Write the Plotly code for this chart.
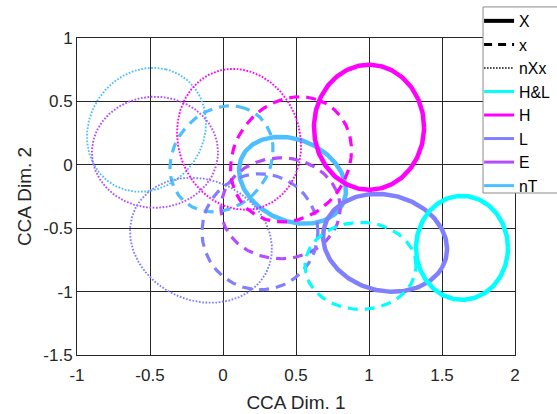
import numpy as np
import plotly.graph_objects as go

# ---------------- data ----------------
groups = ["H&L", "H", "L", "E", "nT"]
conditions = ["X", "x", "nXx"]

# ellipse parameters per (condition, group): centre, semi-axes, tilt (deg)
X_group = ["H&L", "H", "L", "nT"]
X_cx = [1.637, 1.000, 1.110, 0.476]
X_cy = [-0.655, 0.296, -0.615, -0.122]
X_a = [0.315, 0.377, 0.437, 0.395]
X_b = [0.410, 0.493, 0.372, 0.309]
X_ang = [0.0, 0.0, -26.7, -37.0]

x_group = ["H&L", "H", "L", "E", "nT"]
x_cx = [0.942, 0.466, 0.253, 0.394, -0.010]
x_cy = [-0.797, 0.043, -0.528, -0.343, 0.047]
x_a = [0.380, 0.504, 0.397, 0.408, 0.430]
x_b = [0.343, 0.401, 0.457, 0.398, 0.338]
x_ang = [0.0, 70.2, 0.0, 0.0, 67.5]

nXx_group = ["H", "L", "E", "nT"]
nXx_cx = [0.110, -0.151, -0.466, -0.524]
nXx_cy = [0.201, -0.595, 0.099, 0.276]
nXx_a = [0.559, 0.523, 0.432, 0.495]
nXx_b = [0.420, 0.454, 0.438, 0.400]
nXx_ang = [-80.2, -48.0, 0.0, 74.4]

x_tickvals = [-1, -0.5, 0, 0.5, 1, 1.5, 2]
x_ticktext = ["-1", "-0.5", "0", "0.5", "1", "1.5", "2"]
y_tickvals = [-1.5, -1, -0.5, 0, 0.5, 1]
y_ticktext = ["-1.5", "-1", "-0.5", "0", "0.5", "1"]

# ---------------- styles ----------------
colors = {"H&L": "#00FFFF", "H": "#FF00FF", "L": "#8080FF",
          "E": "#B34DFF", "nT": "#4DBFFF"}
cond_style = {"X": dict(width=4.5, dash="solid"),
              "x": dict(width=3.2, dash="10px,7px"),
              "nXx": dict(width=1.9, dash="1.7px,1.6px")}
FONT = "Liberation Sans, Arial, Helvetica, sans-serif"

data = {
    "X": (X_group, X_cx, X_cy, X_a, X_b, X_ang),
    "x": (x_group, x_cx, x_cy, x_a, x_b, x_ang),
    "nXx": (nXx_group, nXx_cx, nXx_cy, nXx_a, nXx_b, nXx_ang),
}

t = np.linspace(0, 2 * np.pi, 241)


def ellipse(cx, cy, a, b, ang):
    th = np.deg2rad(ang)
    ex = cx + a * np.cos(t) * np.cos(th) - b * np.sin(t) * np.sin(th)
    ey = cy + a * np.cos(t) * np.sin(th) + b * np.sin(t) * np.cos(th)
    return ex, ey


fig = go.Figure()

draw_order = ["nT", "E", "L", "H", "H&L"]
for g in draw_order:
    for cond in ["nXx", "x", "X"]:
        grp, cxs, cys, As, Bs, angs = data[cond]
        for i, name in enumerate(grp):
            if name != g:
                continue
            ex, ey = ellipse(cxs[i], cys[i], As[i], Bs[i], angs[i])
            st = cond_style[cond]
            fig.add_trace(go.Scatter(
                x=ex, y=ey, mode="lines", showlegend=False, hoverinfo="skip",
                line=dict(color=colors[g], width=st["width"], dash=st["dash"])))

# legend entries
leg_width = {"X": 4, "x": 3, "nXx": 1.5}
leg_dash = {"X": "solid", "x": "8px,6px", "nXx": "1.5px,1.5px"}
for cond in conditions:
    fig.add_trace(go.Scatter(
        x=[None], y=[None], mode="lines", name=cond,
        line=dict(color="black", width=leg_width[cond], dash=leg_dash[cond])))
for g in groups:
    fig.add_trace(go.Scatter(
        x=[None], y=[None], mode="lines", name=g,
        line=dict(color=colors[g], width=3)))

axis_common = dict(
    showgrid=True, gridcolor="#262626", gridwidth=1,
    showline=True, linecolor="#262626", linewidth=1, mirror=True,
    ticks="inside", ticklen=5, tickcolor="#262626",
    zeroline=False, tickfont=dict(family=FONT, size=17, color="#262626"),
)

# legend box (white, drawn over the plot corner)
fig.add_shape(type="rect", xref="paper", yref="paper",
              x0=0.927, x1=1.3, y0=0.511, y1=1.098,
              fillcolor="white", line=dict(color="#8C8C8C", width=1),
              layer="above")

fig.update_layout(
    width=557, height=414,
    margin=dict(l=77, r=42, t=38, b=59, autoexpand=False),
    paper_bgcolor="white", plot_bgcolor="white",
    font=dict(family=FONT, color="#262626"),
    xaxis=dict(range=[-1, 2], tickvals=x_tickvals, ticktext=x_ticktext,
               ticklabelstandoff=5,
               title=dict(text="CCA Dim. 1", font=dict(family=FONT, size=19),
                          standoff=11),
               automargin=False, **axis_common),
    yaxis=dict(range=[-1.5, 1], tickvals=y_tickvals, ticktext=y_ticktext,
               title=dict(text="CCA Dim. 2", font=dict(family=FONT, size=19),
                          standoff=6),
               automargin=False, **axis_common),
    legend=dict(x=0.918, y=1.107, xanchor="left", yanchor="top",
                bgcolor="rgba(0,0,0,0)", borderwidth=0,
                font=dict(family=FONT, size=15.8, color="black"),
                tracegroupgap=0, itemwidth=30),
    showlegend=True,
)

fig.write_html("out.html",
               config={"displayModeBar": False},
               post_script="document.body.style.margin='0';")
